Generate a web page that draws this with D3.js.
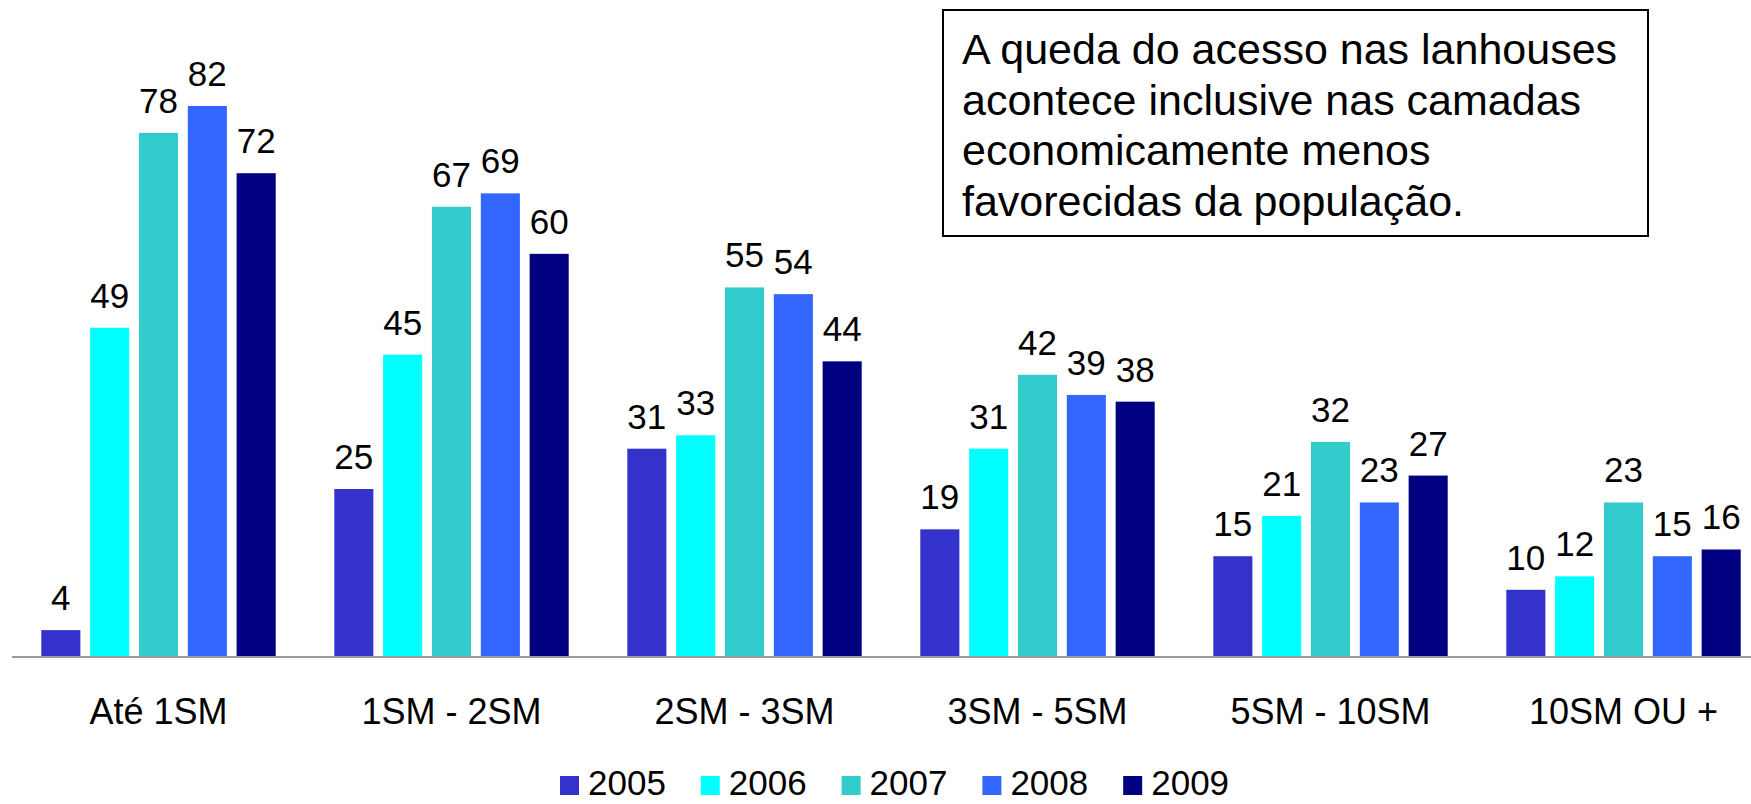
<!DOCTYPE html>
<html lang="pt">
<head>
    <meta charset="UTF-8">
    <title>Acesso em lanhouses por renda</title>
    <style>
        body {
            margin: 0;
            background: #fff;
        }

        svg text {
            font-family: Arial, "Liberation Sans", sans-serif;
            fill: #000;
        }

        .baseline {
            stroke: #999;
            stroke-width: 2px;
        }

        .note-box {
            fill: #fff;
            stroke: #000;
            stroke-width: 2px;
        }
    </style>
</head>
<body>
<svg width="1751" height="804"></svg>
<script src="https://d3js.org/d3.v7.min.js"></script>
<script>
    let categories = ["Até 1SM", "1SM - 2SM", "2SM - 3SM", "3SM - 5SM", "5SM - 10SM", "10SM OU +"];
    let years = ["2005", "2006", "2007", "2008", "2009"];
    let values2005 = [4, 25, 31, 19, 15, 10];
    let values2006 = [49, 45, 33, 31, 21, 12];
    let values2007 = [78, 67, 55, 42, 32, 23];
    let values2008 = [82, 69, 54, 39, 23, 15];
    let values2009 = [72, 60, 44, 38, 27, 16];
    let colors = ["#3333cc", "#00ffff", "#33cccc", "#3366ff", "#000080"];
    let note = [
        "A queda do acesso nas lanhouses",
        "acontece inclusive nas camadas",
        "economicamente menos",
        "favorecidas da população."
    ];

    let series = [values2005, values2006, values2007, values2008, values2009];

    let svg = d3.select("svg"),
        width = +svg.attr("width");

    let x0 = d3.scaleBand()
        .domain(categories)
        .range([12, 12 + 293 * 6])
        .paddingInner(0.2)
        .paddingOuter(0.1);

    let x1 = d3.scaleBand()
        .domain(years)
        .range([0, x0.bandwidth()])
        .paddingInner(0.2);

    let y = d3.scaleLinear()
        .domain([0, 82])
        .range([657, 106]);

    let color = d3.scaleOrdinal().domain(years).range(colors);

    // flat rows: one per bar
    let rows = [];
    categories.forEach(function (c, i) {
        years.forEach(function (yr, j) {
            rows.push({cat: c, year: yr, value: series[j][i]});
        });
    });

    let groups = svg.append("g");

    groups.selectAll("rect")
        .data(rows)
        .enter().append("rect")
        .attr("x", function (d) { return x0(d.cat) + x1(d.year); })
        .attr("y", function (d) { return y(d.value); })
        .attr("width", x1.bandwidth())
        .attr("height", function (d) { return y(0) - y(d.value); })
        .attr("fill", function (d) { return color(d.year); });

    groups.selectAll(".value")
        .data(rows)
        .enter().append("text")
        .attr("class", "value")
        .attr("x", function (d) { return x0(d.cat) + x1(d.year) + x1.bandwidth() / 2; })
        .attr("y", function (d) { return y(d.value) - 20; })
        .attr("text-anchor", "middle")
        .style("font-size", "35px")
        .text(function (d) { return d.value; });

    svg.append("line")
        .attr("class", "baseline")
        .attr("x1", 12)
        .attr("x2", width)
        .attr("y1", y(0))
        .attr("y2", y(0));

    // category labels
    let xAxis = d3.axisBottom(x0).tickSize(0).tickPadding(0);
    let axisG = svg.append("g")
        .attr("transform", "translate(0," + y(0) + ")")
        .call(xAxis);
    axisG.select(".domain").remove();
    axisG.selectAll("text")
        .attr("dy", null)
        .attr("y", 67)
        .style("font-size", "36px")
        .style("font-family", "Arial, 'Liberation Sans', sans-serif")
        .attr("fill", "#000");

    // legend (nudged up a few px so the glyph boxes stay inside the frame)
    let legend = svg.append("g")
        .selectAll("g")
        .data(years)
        .enter().append("g")
        .attr("transform", function (d, i) { return "translate(" + (560 + i * 140.8) + ",0)"; });

    legend.append("rect")
        .attr("x", 0)
        .attr("y", 776)
        .attr("width", 19)
        .attr("height", 19)
        .attr("fill", function (d) { return color(d); });

    legend.append("text")
        .attr("x", 28)
        .attr("y", 795)
        .style("font-size", "35px")
        .text(function (d) { return d; });

    // annotation box
    svg.append("rect")
        .attr("class", "note-box")
        .attr("x", 943)
        .attr("y", 10)
        .attr("width", 705)
        .attr("height", 226);

    svg.append("g")
        .selectAll("text")
        .data(note)
        .enter().append("text")
        .attr("x", 962)
        .attr("y", function (d, i) { return 64 + i * 50.5; })
        .style("font-size", "43px")
        .text(function (d) { return d; });
</script>
</body>
</html>
